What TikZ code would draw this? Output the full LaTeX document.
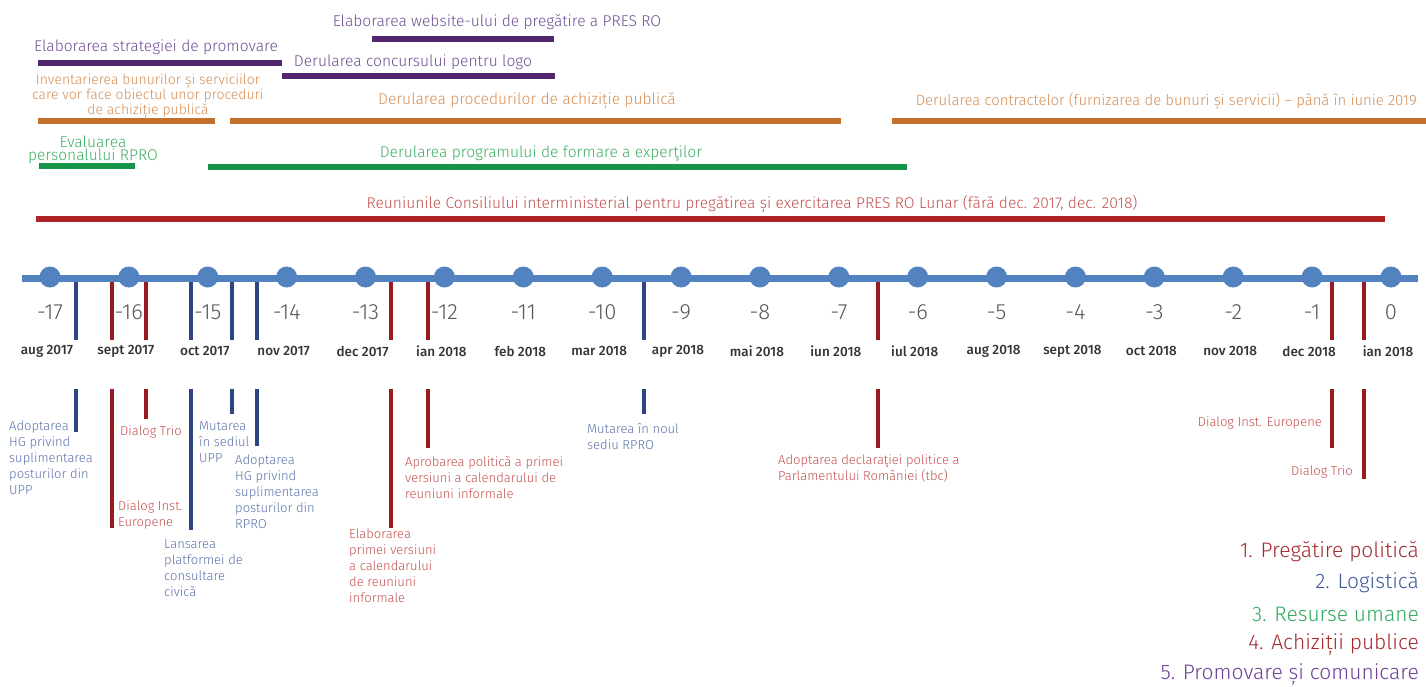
\documentclass[tikz,border=0pt]{standalone}
\usepackage{fontspec}
\setmainfont{Fira Sans}[UprightFont=* Light, BoldFont=* Medium]
\definecolor{purpleBar}{HTML}{52276F}
\definecolor{purpleText}{HTML}{6E4E92}
\definecolor{orangeBar}{HTML}{C2702A}
\definecolor{orangeText}{HTML}{D58E55}
\definecolor{greenBar}{HTML}{169448}
\definecolor{greenText}{HTML}{3DAE64}
\definecolor{redBar}{HTML}{AE2424}
\definecolor{redTick}{HTML}{9A1B1F}
\definecolor{redText}{HTML}{C2504F}
\definecolor{blueLine}{HTML}{5283C0}
\definecolor{blueTick}{HTML}{2F4582}
\definecolor{blueText}{HTML}{5B72A9}
\definecolor{numGray}{HTML}{555555}
\definecolor{monGray}{HTML}{333333}
\definecolor{legRed}{HTML}{A3282C}
\definecolor{legBlue}{HTML}{3E5A9E}
\definecolor{legGreen}{HTML}{2FAA5C}
\definecolor{legPurple}{HTML}{6B3E96}
\begin{document}
\begin{tikzpicture}[x=1pt,y=-1pt,
  bar/.style={line width=6.5pt},
  ticka/.style={line width=4pt},
  dot/.style={circle,fill=blueLine,minimum size=21pt,inner sep=0},
  num/.style={inner sep=0,text=numGray,font=\fontsize{22}{24}\selectfont},
  mon/.style={inner sep=0,text=monGray,font=\fontsize{13.5}{15}\bfseries},
  lbl/.style={inner sep=0,align=left,anchor=north west,font=\fontsize{13}{16}\selectfont},
  lblr/.style={inner sep=0,align=right,anchor=east,font=\fontsize{13}{16}\selectfont},
  toplbl/.style={inner sep=0,font=\fontsize{15.6}{13.5}\selectfont},
  leg/.style={inner sep=0,anchor=east,font=\fontsize{21}{22}\selectfont}]
\useasboundingbox (0,0) rectangle (1426,686);

% ---------- top activity bars ----------
\node[toplbl,text=purpleText] (tWeb) at (497,22) {Elaborarea website-ului de pregătire a PRES RO};
\coordinate (bWebA) at (372,39); \coordinate (bWebB) at (554,39);
\draw[bar,purpleBar] (bWebA) -- (bWebB);

\node[toplbl,text=purpleText] (tStr) at (156,47) {Elaborarea strategiei de promovare};
\coordinate (bStrA) at (38,63); \coordinate (bStrB) at (282,63);
\draw[bar,purpleBar] (bStrA) -- (bStrB);

\node[toplbl,text=purpleText] (tLogo) at (413,62) {Derularea concursului pentru logo};
\coordinate (bLogoA) at (282,76); \coordinate (bLogoB) at (555,76);
\draw[bar,purpleBar] (bLogoA) -- (bLogoB);

\node[toplbl,text=orangeText,align=center,font=\fontsize{14}{13.5}\selectfont] (tInv) at (148,96) {Inventarierea bunurilor și serviciilor\\care vor face obiectul unor proceduri\\de achiziție publică};
\coordinate (bInvA) at (38,121); \coordinate (bInvB) at (215,121);
\draw[bar,orangeBar] (bInvA) -- (bInvB);

\node[toplbl,text=orangeText] (tProc) at (527,101) {Derularea procedurilor de achiziție publică};
\coordinate (bProcA) at (230,121); \coordinate (bProcB) at (841,121);
\draw[bar,orangeBar] (bProcA) -- (bProcB);

\node[toplbl,text=orangeText,anchor=east,font=\fontsize{14.9}{13.5}\selectfont] (tContr) at (1417,101) {Derularea contractelor (furnizarea de bunuri și servicii) – până în iunie 2019};
\coordinate (bContrA) at (892,121); \coordinate (bContrB) at (1426,121);
\draw[bar,orangeBar] (bContrA) -- (bContrB);

\node[toplbl,text=greenText,align=center] (tEval) at (93,150) {Evaluarea\\personalului RPRO};
\coordinate (bEvalA) at (39,166); \coordinate (bEvalB) at (135,166);
\draw[bar,greenBar] (bEvalA) -- (bEvalB);

\node[toplbl,text=greenText] (tForm) at (541,153) {Derularea programului de formare a experţilor};
\coordinate (bFormA) at (208,167); \coordinate (bFormB) at (907,167);
\draw[bar,greenBar] (bFormA) -- (bFormB);

\node[toplbl,text=redText] (tReu) at (752,204) {Reuniunile Consiliului interministerial pentru pregătirea și exercitarea PRES RO Lunar (fără dec. 2017, dec. 2018)};
\coordinate (bReuA) at (36,219); \coordinate (bReuB) at (1385,219);
\draw[bar,redBar] (bReuA) -- (bReuB);

% ---------- timeline ----------
\coordinate (tlL) at (22,278); \coordinate (tlR) at (1418,278);
\draw[line width=7pt,blueLine] (tlL) -- (tlR);
\foreach \i/\m in {0/aug 2017,1/sept 2017,2/oct 2017,3/nov 2017,4/dec 2017,5/ian 2018,6/feb 2018,7/mar 2018,8/apr 2018,9/mai 2018,10/iun 2018,11/iul 2018,12/aug 2018,13/sept 2018,14/oct 2018,15/nov 2018,16/dec 2018,17/ian 2018}{
  \pgfmathtruncatemacro\v{\i-17}
  \node[dot] (m\i) at ({50+\i*78.88},277) {};
  \node[num] (n\i) at ({50+\i*78.88},312) {\v};
  \node[mon] (d\i) at ({47+\i*78.88},351) {\m};
}

% ---------- event ticks ----------
\foreach \x/\c/\e [count=\k] in {76/blueTick/432,112/redTick/528,146/redTick/419,191/blueTick/530,232/blueTick/414,257/blueTick/446,391/redTick/528,428/redTick/448,644/blueTick/414,878/redTick/448,1332/redTick/448,1364/redTick/479}{
  \coordinate (ta\k) at (\x,282); \coordinate (tb\k) at (\x,340);
  \coordinate (tc\k) at (\x,389); \coordinate (td\k) at (\x,\e);
  \draw[ticka,\c] (ta\k) -- (tb\k);
  \draw[ticka,\c] (tc\k) -- (td\k);
}

% ---------- event labels ----------
\node[lbl,text=blueText] (e1) at (9,421) {Adoptarea\\HG privind\\suplimentarea\\posturilor din\\UPP};
\node[lbl,text=redText] (e2) at (120,426) {Dialog Trio};
\node[lbl,text=redText] (e3) at (118,500) {Dialog Inst.\\Europene};
\node[lbl,text=blueText] (e4) at (199,421) {Mutarea\\în sediul\\UPP};
\node[lbl,text=blueText] (e5) at (235,455) {Adoptarea\\HG privind\\suplimentarea\\posturilor din\\RPRO};
\node[lbl,text=blueText] (e6) at (164,539) {Lansarea\\platformei de\\consultare\\civică};
\node[lbl,text=redText] (e7) at (349,529) {Elaborarea\\primei versiuni\\a calendarului\\de reuniuni\\informale};
\node[lbl,text=redText] (e8) at (405,456) {Aprobarea politică a primei\\versiuni a calendarului de\\reuniuni informale};
\node[lbl,text=blueText] (e9) at (587,423) {Mutarea în noul\\sediu RPRO};
\node[lbl,text=redText] (e10) at (778,455) {Adoptarea declaraţiei politice a\\Parlamentului României (tbc)};
\node[lblr,text=redText] (e11) at (1322,423) {Dialog Inst. Europene};
\node[lblr,text=redText] (e12) at (1353,472) {Dialog Trio};

% ---------- legend ----------
\node[leg,text=legRed] (l1) at (1419,552) {1. Pregătire politică};
\node[leg,text=legBlue] (l2) at (1419,583) {2. Logistică};
\node[leg,text=legGreen] (l3) at (1419,614) {3. Resurse umane};
\node[leg,text=legRed] (l4) at (1419,645) {4. Achiziții publice};
\node[leg,text=legPurple] (l5) at (1419,675) {5. Promovare și comunicare};
\end{tikzpicture}
\end{document}
